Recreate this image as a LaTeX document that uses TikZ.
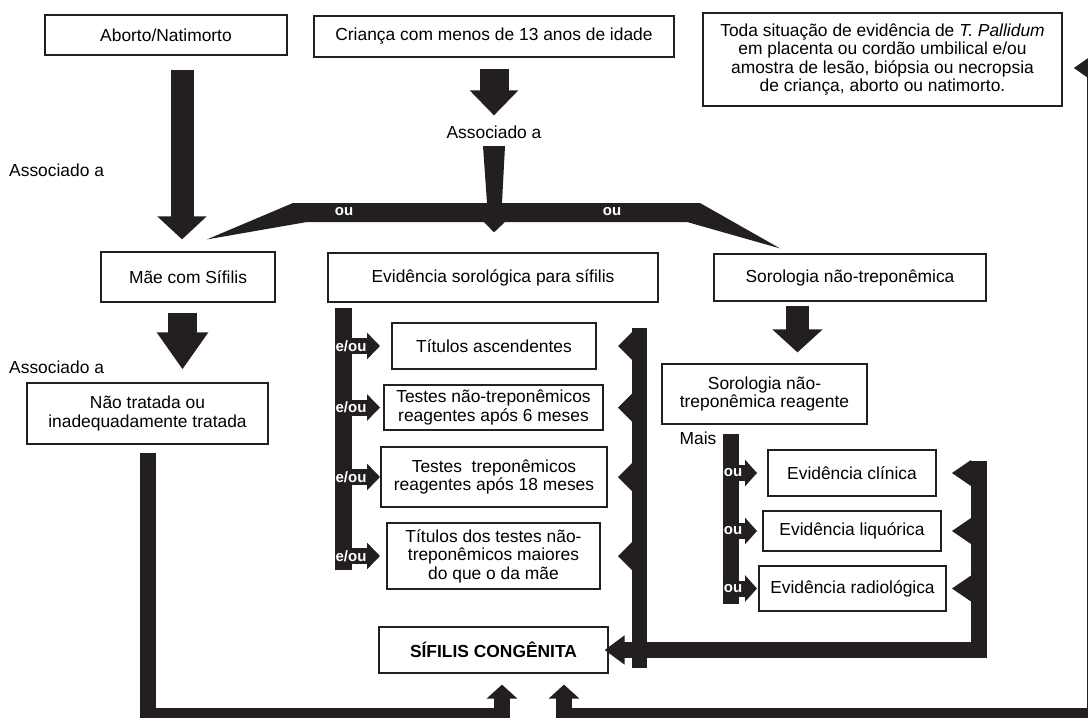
\documentclass[tikz,border=0pt]{standalone}
\usepackage{fontspec}
\setmainfont{Liberation Sans}
\usetikzlibrary{arrows.meta,calc}
\definecolor{ink}{RGB}{35,31,32}
\tikzset{
  box/.style={draw=ink, line width=1.2pt, fill=white, inner sep=0pt, align=center,
    font=\fontsize{17.4}{18.5}\selectfont},
  lbl/.style={inner sep=0pt, font=\fontsize{17.4}{18.5}\selectfont},
  wlbl/.style={inner sep=0pt, text=white, font=\fontsize{15}{15}\selectfont\bfseries},
  fat/.style={draw=ink, line width=#1, line join=miter},
}
\begin{document}
\begin{tikzpicture}[x=1pt,y=-1pt]
  \useasboundingbox (0,0) rectangle (1088,718);
  \clip (0,0) rectangle (1088,718);

  % top row
  \node[box, minimum width=242pt, minimum height=40pt] (aborto) at (166,35) {Aborto/Natimorto};
  \node[box, minimum width=360pt, minimum height=41pt] (crianca) at (494,36.5) {Criança com menos de 13 anos de idade};
  \node[box, minimum width=359pt, minimum height=93pt] (toda) at (882.5,59.5)
    {Toda situação de evidência de \textit{T. Pallidum}\\em placenta ou cordão umbilical e/ou\\amostra de lesão, biópsia ou necropsia\\de criança, aborto ou natimorto.};

  \node[lbl, anchor=west] (assoc1) at (9,170) {Associado a};
  \node[lbl] (assoc2) at (494,132) {Associado a};

  % second row
  \node[box, minimum width=174pt, minimum height=50pt] (mae) at (188,277) {Mãe com Sífilis};
  \node[box, minimum width=330pt, minimum height=49pt] (evsor) at (493,277.5) {Evidência sorológica para sífilis};
  \node[box, minimum width=272pt, minimum height=47pt] (sornt) at (850,277.5) {Sorologia não-treponêmica};

  % left column
  \node[lbl, anchor=west] (assoc3) at (9,367) {Associado a};
  \node[box, minimum width=241pt, minimum height=61pt] (naotratada) at (147.5,413.5) {Não tratada ou\\inadequadamente tratada};

  % middle column
  \node[box, minimum width=204pt, minimum height=46pt] (titulos) at (494,346) {Títulos ascendentes};
  \node[box, minimum width=219pt, minimum height=45pt] (testesnt) at (493.5,407.5) {Testes não-treponêmicos\\reagentes após 6 meses};
  \node[box, minimum width=226pt, minimum height=60pt] (testest) at (494,477) {Testes\ \ treponêmicos\\reagentes após 18 meses};
  \node[box, minimum width=213pt, minimum height=66pt] (titmae) at (493.5,556) {Títulos dos testes não-\\treponêmicos maiores\\do que o da mãe};
  \node[box, minimum width=229pt, minimum height=46pt] (sifilis) at (493.5,650) {\bfseries SÍFILIS CONGÊNITA};

  % right column
  \node[box, minimum width=205pt, minimum height=60pt] (sorreag) at (764.5,394) {Sorologia não-\\treponêmica reagente};
  \node[lbl] (mais) at (698,438) {Mais};
  \node[box, minimum width=168pt, minimum height=46pt] (evclin) at (852,473) {Evidência clínica};
  \node[box, minimum width=178pt, minimum height=40pt] (evliq) at (852,531) {Evidência liquórica};
  \node[box, minimum width=187pt, minimum height=45pt] (evrad) at (852.5,588.5) {Evidência radiológica};

  % straight block arrows
  \coordinate (a1) at ([xshift=16pt,yshift=-14pt]aborto.south);
  \draw[fat=23pt, -{Triangle[width=48pt,length=23pt]}, shorten >=12pt] (a1) -- (a1 |- mae.north);
  \draw[fat=29pt, -{Triangle[width=47pt,length=25pt]}, shorten >=10pt] ([yshift=-11pt]crianca.south) -- (assoc2.north);
  \coordinate (d1) at ([xshift=-5.5pt,yshift=-10pt]mae.south);
  \draw[fat=29pt, -{Triangle[width=49pt,length=37pt]}, shorten >=13pt] (d1) -- (d1 |- naotratada.north);
  \coordinate (e1) at ([xshift=-52.5pt,yshift=-4pt]sornt.south);
  \draw[fat=23pt, -{Triangle[width=49pt,length=23pt]}, shorten >=11pt] (e1) -- (e1 |- sorreag.north);

  % "ou" band
  \coordinate (tipL) at ([xshift=19pt,yshift=12pt]mae.north);
  \coordinate (tipM) at ([xshift=1pt,yshift=20pt]evsor.north);
  \coordinate (tipR) at ([xshift=-70pt,yshift=5pt]sornt.north);
  \fill[ink] (293,203) -- (487,203) -- (483,146) -- (505,146) -- (502,203) -- (700,203) -- (tipR)
    -- (687,222) -- (505,222) -- (tipM) -- (484,222) -- (307,222) -- (tipL) -- cycle;
  \node[wlbl] (ou1) at (344,212) {ou};
  \node[wlbl] (ou2) at (612,212) {ou};

  % e/ou bar
  \coordinate (ebar) at (335,0);
  \coordinate (etip) at (380,0);
  \fill[ink] (335,308) rectangle (352,570);
  \foreach \n in {titulos,testesnt,testest,titmae}{
    \draw[fat=16pt, -{Triangle[width=26pt,length=13pt]}] (ebar |- \n.west) -- (etip |- \n.west);
    \node[wlbl] at ([xshift=16pt]ebar |- \n.west) {e/ou};
  }

  % bracket to the right of the tests
  \coordinate (mbar) at (632,0);
  \fill[ink] (632,328) rectangle (647,668);
  \foreach \n in {titulos,testesnt,testest,titmae}{
    \fill[ink] (mbar |- \n.east) ++(0,-14) -- ++(-14,14) -- ++(14,14) -- cycle;
  }

  % ou bar of the evidences
  \coordinate (obar) at (723,0);
  \coordinate (otip) at (757,0);
  \fill[ink] (723,434) rectangle (739,604);
  \foreach \n in {evclin,evliq,evrad}{
    \draw[fat=16pt, -{Triangle[width=26pt,length=12pt]}] (obar |- \n.west) -- (otip |- \n.west);
    \node[wlbl] at ([xshift=10pt]obar |- \n.west) {ou};
  }

  % bracket of the evidences into Sifilis congenita
  \coordinate (rbar) at (979,461);
  \coordinate (rbarl) at (971,0);
  \draw[fat=16pt, -{Triangle[width=28pt,length=20pt]}, shorten >=-4pt] (rbar) -- (rbar |- sifilis.east) -- (sifilis.east);
  \foreach \n in {evclin,evliq,evrad}{
    \fill[ink] (rbarl |- \n.east) ++(0,-13) -- ++(-19,13) -- ++(19,13) -- cycle;
  }

  % bottom connectors
  \coordinate (bottom) at (0,716);
  \coordinate (redge) at (1095,0);
  \coordinate (nt0) at ([yshift=-8pt]naotratada.south);
  \coordinate (s1) at ([xshift=8.5pt,yshift=-11pt]sifilis.south);
  \coordinate (s2) at ([xshift=70.5pt,yshift=-11pt]sifilis.south);
  \coordinate (t1) at ([xshift=11pt,yshift=-8.5pt]toda.east);
  \draw[fat=16pt, -{Triangle[width=30pt,length=14pt]}] (nt0) -- (nt0 |- bottom) -- (s1 |- bottom) -- (s1);
  \draw[fat=16pt, {Triangle[width=26pt,length=20pt]}-{Triangle[width=30pt,length=14pt]}]
    (t1) -- (redge |- t1) -- (redge |- bottom) -- (s2 |- bottom) -- (s2);
\end{tikzpicture}
\end{document}
